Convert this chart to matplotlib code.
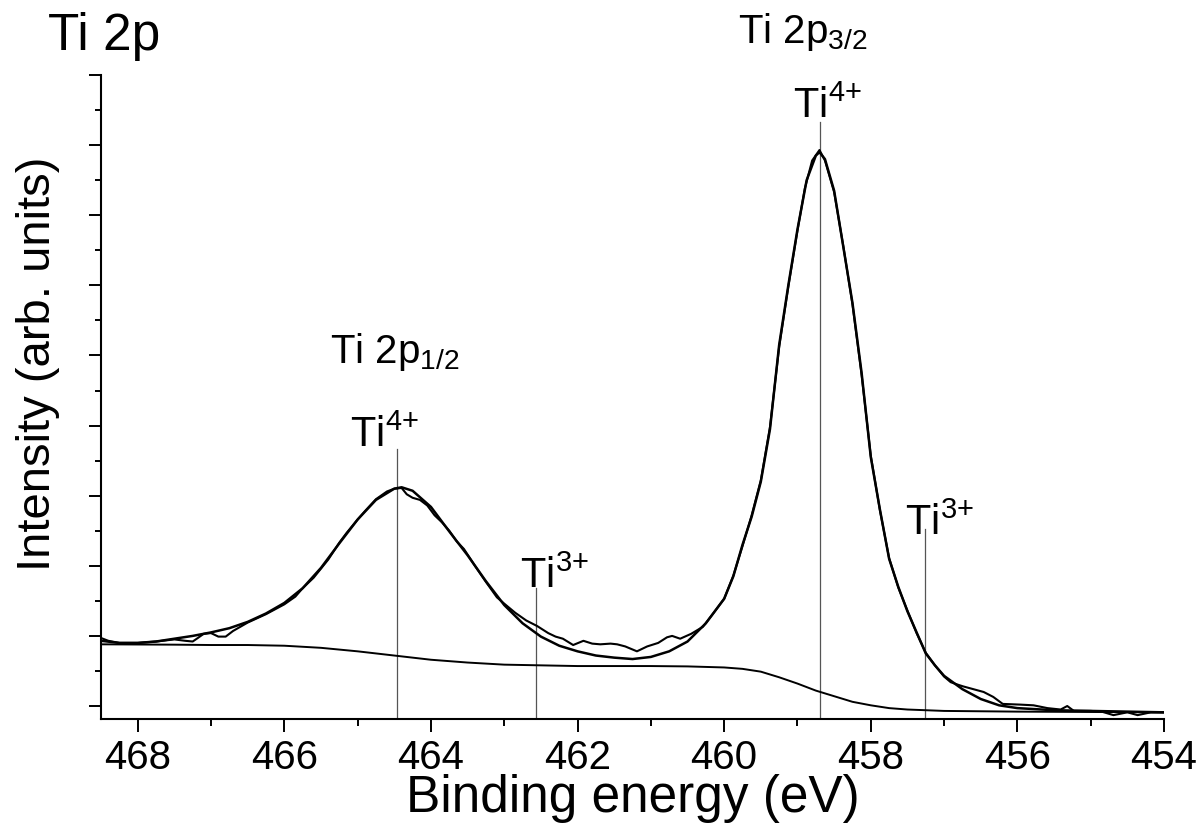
import matplotlib
matplotlib.use("Agg")
import matplotlib.pyplot as plt
from matplotlib.ticker import MultipleLocator, NullFormatter

plt.rcParams['font.family'] = ['Liberation Sans', 'DejaVu Sans']
plt.rcParams['mathtext.fontset'] = 'custom'
plt.rcParams['mathtext.rm'] = 'Liberation Sans'
plt.rcParams['mathtext.it'] = 'Liberation Sans'
plt.rcParams['mathtext.default'] = 'regular'

# measured Ti 2p spectrum (binding energy in eV, intensity in arb. units)
meas_be = [468.50, 468.40, 468.25, 468.00, 467.75, 467.50, 467.35, 467.25, 467.18, 467.10,
           467.00, 466.90, 466.80, 466.70, 466.60, 466.50, 466.25, 466.00, 465.85, 465.75,
           465.60, 465.50, 465.40, 465.25, 465.15, 465.00, 464.90, 464.75, 464.60, 464.50,
           464.40, 464.33, 464.25, 464.15, 464.05, 463.95, 463.85, 463.75, 463.65, 463.55,
           463.40, 463.25, 463.10, 463.00, 462.85, 462.70, 462.55, 462.40, 462.30, 462.20,
           462.06, 461.92, 461.80, 461.69, 461.55, 461.46, 461.35, 461.19, 461.05, 460.90,
           460.78, 460.71, 460.60, 460.45, 460.29, 460.15, 460.00, 459.875, 459.75, 459.625,
           459.50, 459.375, 459.25, 459.125, 459.00, 458.90, 458.80, 458.70, 458.625, 458.50,
           458.375, 458.25, 458.125, 458.00, 457.875, 457.75, 457.625, 457.50, 457.375, 457.25,
           457.125, 457.00, 456.91, 456.80, 456.74, 456.60, 456.46, 456.33, 456.20, 455.96,
           455.78, 455.59, 455.41, 455.32, 455.23, 455.00, 454.85, 454.69, 454.50, 454.36,
           454.18, 454.00]
meas_int = [0.97, 0.93, 0.90, 0.90, 0.92, 0.95, 0.93, 0.92, 0.97, 1.03,
            1.04, 0.99, 0.99, 1.07, 1.13, 1.19, 1.31, 1.45, 1.56, 1.68,
            1.83, 1.96, 2.09, 2.33, 2.47, 2.66, 2.78, 2.95, 3.06, 3.10,
            3.11, 3.02, 2.97, 2.94, 2.86, 2.72, 2.62, 2.50, 2.35, 2.24,
            2.00, 1.77, 1.55, 1.46, 1.33, 1.22, 1.14, 1.04, 0.99, 0.96,
            0.87, 0.93, 0.89, 0.88, 0.89, 0.88, 0.85, 0.78, 0.85, 0.90,
            0.98, 1.00, 0.96, 1.03, 1.13, 1.32, 1.53, 1.86, 2.28, 2.72,
            3.22, 3.98, 5.12, 5.98, 6.78, 7.38, 7.78, 7.93, 7.78, 7.33,
            6.56, 5.73, 4.72, 3.57, 2.79, 2.11, 1.69, 1.36, 1.04, 0.76,
            0.58, 0.42, 0.34, 0.30, 0.28, 0.24, 0.20, 0.13, 0.03, 0.02,
            0.01, -0.03, -0.05, 0.00, -0.07, -0.07, -0.08, -0.13, -0.09, -0.13,
            -0.09, -0.09]

# fitted envelope
fit_be = [468.50, 468.25, 468.00, 467.75, 467.50, 467.25, 467.00, 466.75, 466.50, 466.25,
          466.00, 465.75, 465.50, 465.25, 465.00, 464.75, 464.50, 464.40, 464.25, 464.00,
          463.75, 463.50, 463.25, 463.00, 462.75, 462.50, 462.25, 462.00, 461.75, 461.50,
          461.25, 461.00, 460.75, 460.50, 460.25, 460.00, 459.875, 459.75, 459.625, 459.50,
          459.375, 459.25, 459.125, 459.00, 458.875, 458.75, 458.70, 458.625, 458.50, 458.375,
          458.25, 458.125, 458.00, 457.875, 457.75, 457.625, 457.50, 457.375, 457.25, 457.125,
          457.00, 456.75, 456.50, 456.25, 456.00, 455.50, 455.00, 454.50, 454.00]
fit_int = [0.93, 0.90, 0.90, 0.92, 0.96, 1.00, 1.05, 1.11, 1.20, 1.32,
           1.47, 1.68, 1.97, 2.32, 2.66, 2.94, 3.10, 3.12, 3.07, 2.84,
           2.49, 2.15, 1.78, 1.44, 1.18, 0.99, 0.86, 0.78, 0.72, 0.69,
           0.67, 0.70, 0.78, 0.92, 1.18, 1.53, 1.85, 2.30, 2.70, 3.20,
           3.95, 5.15, 6.00, 6.80, 7.50, 7.85, 7.90, 7.80, 7.35, 6.55,
           5.75, 4.75, 3.55, 2.80, 2.10, 1.70, 1.35, 1.05, 0.75, 0.58,
           0.43, 0.24, 0.10, 0.01, -0.03, -0.06, -0.07, -0.08, -0.09]

# Shirley background
bg_be = [468.50, 467.50, 467.00, 466.50, 466.00, 465.50, 465.00, 464.50, 464.00, 463.50,
         463.00, 462.50, 462.00, 461.00, 460.50, 460.00, 459.75, 459.50, 459.25, 459.00,
         458.75, 458.50, 458.25, 458.00, 457.75, 457.50, 457.00, 456.00, 455.00, 454.00]
bg_int = [0.88, 0.875, 0.87, 0.87, 0.86, 0.83, 0.78, 0.72, 0.66, 0.62,
          0.59, 0.58, 0.57, 0.57, 0.565, 0.55, 0.53, 0.49, 0.41, 0.32,
          0.22, 0.14, 0.06, 0.01, -0.03, -0.05, -0.07, -0.08, -0.085, -0.09]

# component positions: energy, top of marker line, label
comp_be = [464.46, 462.57, 458.69, 457.26]
comp_top = [3.67, 1.68, 8.33, 2.52]
comp_labels = [r'Ti$^{4{+}}$', r'Ti$^{3{+}}$', r'Ti$^{4{+}}$', r'Ti$^{3{+}}$']
comp_label_xy = [(465.11, 3.71), (462.79, 1.70), (459.06, 8.40), (457.53, 2.45)]

# doublet headers
peak_labels = [r'Ti 2p$_{1/2}$', r'Ti 2p$_{3/2}$']
peak_label_xy = [(465.38, 4.91), (459.81, 9.47)]

ymin, ymax = -0.185, 9.0

fig = plt.figure(figsize=(12.03, 8.29), dpi=100)
ax = fig.add_axes([0.084, 0.1315, 0.8836, 0.7768])

for e, top in zip(comp_be, comp_top):
    ax.plot([e, e], [ymin, top], color='#555555', lw=0.9, zorder=1)

ax.plot(bg_be, bg_int, color='black', lw=1.4, zorder=2)
ax.plot(meas_be, meas_int, color='black', lw=1.5, zorder=3)
ax.plot(fit_be, fit_int, color='black', lw=1.8, zorder=4)

for lab, (x, y) in zip(comp_labels, comp_label_xy):
    ax.text(x, y, lab, fontsize=30, ha='left', va='baseline')
for lab, (x, y) in zip(peak_labels, peak_label_xy):
    ax.text(x, y, lab, fontsize=29, ha='left', va='baseline', clip_on=False)

fig.text(48 / 1203, 1 - 50 / 829, 'Ti 2p', fontsize=37, ha='left', va='baseline')

ax.set_xlim(468.5, 454)
ax.set_ylim(ymin, ymax)

ax.spines['top'].set_visible(False)
ax.spines['right'].set_visible(False)
ax.spines['left'].set_linewidth(1.5)
ax.spines['bottom'].set_linewidth(1.5)

ax.xaxis.set_major_locator(MultipleLocator(2))
ax.xaxis.set_minor_locator(MultipleLocator(1))
ax.yaxis.set_major_locator(MultipleLocator(1))
ax.yaxis.set_minor_locator(MultipleLocator(0.5))
ax.yaxis.set_major_formatter(NullFormatter())

ax.tick_params(axis='x', which='major', direction='out', length=9.5, width=1.4,
               labelsize=29, pad=4)
ax.tick_params(axis='x', which='minor', direction='out', length=5, width=1.4)
ax.tick_params(axis='y', which='major', direction='out', length=9, width=1.4)
ax.tick_params(axis='y', which='minor', direction='out', length=4.5, width=1.4)

ax.set_xlabel('Binding energy (eV)', fontsize=37, labelpad=-2)
ax.set_ylabel('Intensity (arb. units)', fontsize=34)
ax.yaxis.set_label_coords(-0.039, 0.553)

fig.savefig('out.png', dpi=100)
